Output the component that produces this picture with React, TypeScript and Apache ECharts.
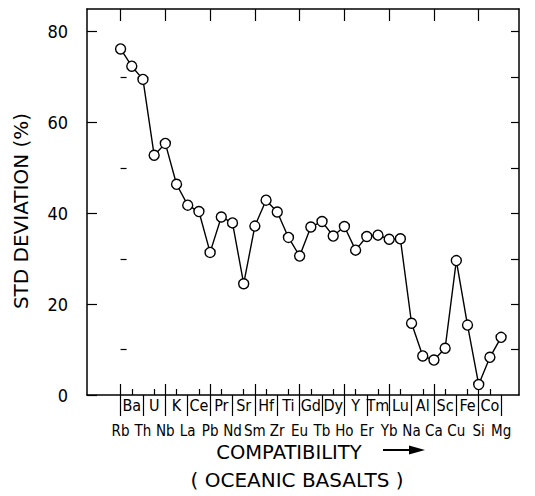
import React, { useEffect, useRef } from "react";
import * as echarts from "echarts";

const elements = ["Rb","Ba","Th","U","Nb","K","La","Ce","Pb","Pr","Nd","Sr","Sm","Hf","Zr","Ti","Eu","Gd","Tb","Dy","Ho","Y","Er","Tm","Yb","Lu","Na","Al","Ca","Sc","Cu","Fe","Si","Co","Mg"];
const stdDeviation = [76.2,72.4,69.5,52.8,55.4,46.4,41.8,40.4,31.4,39.2,37.9,24.5,37.2,42.9,40.3,34.7,30.6,37.0,38.2,35.0,37.1,31.9,34.9,35.2,34.3,34.4,15.8,8.6,7.7,10.3,29.6,15.4,2.3,8.3,12.7];
const yTickLabels = [0, 20, 40, 60, 80];
const yAxisTitle = "STD DEVIATION (%)";
const xAxisTitle = "COMPATIBILITY";
const xAxisSubtitle = "( OCEANIC BASALTS )";

const LABEL_FONT = '"DejaVu Sans Condensed", "Liberation Sans", sans-serif';
const TITLE_FONT = '"DejaVu Sans", "Liberation Sans", sans-serif';

export default function App() {
  const ref = useRef<HTMLDivElement>(null);
  useEffect(() => {
    if (!ref.current) return;
    const chart = echarts.init(ref.current, undefined, { renderer: "svg" });
    const idx = elements.map((_, i) => i);
    const upperIdx = idx.filter((i) => i % 2 === 1);
    const lowerIdx = idx.filter((i) => i % 2 === 0);
    const majorIdx = idx.filter((i) => i % 4 === 0);
    const xMin = -3;
    const xMax = 35.6;
    const baseX = {
      type: "value",
      min: xMin,
      max: xMax,
      splitLine: { show: false },
      axisLine: { show: false },
      axisTick: { show: false },
      axisLabel: { show: false },
    };
    const fmt = (v: number) => elements[Math.round(v)] ?? "";
    chart.setOption({
      animation: false,
      grid: { left: 87, top: 9, width: 432, height: 386, show: false },
      xAxis: [
        {
          ...baseX,
          position: "bottom",
          axisLine: { show: true, onZero: false, lineStyle: { color: "#000", width: 1.5 } },
          axisTick: { show: true, inside: true, length: 6, customValues: upperIdx, lineStyle: { color: "#000", width: 1.2 } },
          axisLabel: { show: true, customValues: upperIdx, formatter: fmt, margin: 3, lineHeight: 15, color: "#000", fontSize: 16, fontFamily: LABEL_FONT },
        },
        {
          ...baseX,
          position: "bottom",
          axisTick: { show: true, inside: true, length: 11, customValues: majorIdx, lineStyle: { color: "#000", width: 1.2 } },
        },
        {
          ...baseX,
          position: "bottom",
          axisTick: { show: true, inside: false, length: 21, customValues: lowerIdx, lineStyle: { color: "#000", width: 1.2 } },
          axisLabel: { show: true, customValues: lowerIdx, formatter: fmt, margin: 29, lineHeight: 14, color: "#000", fontSize: 15, fontFamily: LABEL_FONT },
        },
        {
          ...baseX,
          position: "top",
          axisLine: { show: true, onZero: false, lineStyle: { color: "#000", width: 1.5 } },
          axisTick: { show: true, inside: true, length: 12, customValues: majorIdx, lineStyle: { color: "#000", width: 1.2 } },
        },
      ],
      yAxis: [
        {
          type: "value",
          position: "left",
          min: 0,
          max: 85,
          splitLine: { show: false },
          axisLine: { show: true, onZero: false, lineStyle: { color: "#000", width: 1.5 } },
          axisTick: { show: true, inside: true, length: 10, customValues: yTickLabels, lineStyle: { color: "#000", width: 1.2 } },
          axisLabel: { show: true, customValues: yTickLabels, margin: 19, color: "#000", fontSize: 18, fontFamily: LABEL_FONT },
        },
        {
          type: "value",
          position: "left",
          min: 0,
          max: 85,
          splitLine: { show: false },
          axisLine: { show: false },
          axisTick: { show: true, inside: true, length: 6, customValues: [10, 30, 50, 70], lineStyle: { color: "#000", width: 1.2 } },
          axisLabel: { show: false },
        },
        {
          type: "value",
          position: "right",
          min: 0,
          max: 85,
          splitLine: { show: false },
          axisLine: { show: true, onZero: false, lineStyle: { color: "#000", width: 1.5 } },
          axisTick: { show: true, inside: true, length: 8, customValues: [10, 20, 30, 40, 50, 60, 70, 80], lineStyle: { color: "#000", width: 1.2 } },
          axisLabel: { show: false },
        },
      ],
      series: [
        {
          type: "line",
          xAxisIndex: 0,
          yAxisIndex: 0,
          data: stdDeviation.map((v, i) => [i, v]),
          symbol: "circle",
          symbolSize: 10,
          showSymbol: true,
          lineStyle: { color: "#000", width: 1.4 },
          itemStyle: { color: "#fff", borderColor: "#000", borderWidth: 1.4 },
          emphasis: { disabled: true },
        },
      ],
      graphic: [
        {
          type: "text",
          x: 21,
          y: 211,
          rotation: Math.PI / 2,
          style: { text: yAxisTitle, align: "center", verticalAlign: "middle", fontSize: 20, fontFamily: TITLE_FONT, fill: "#000" },
        },
        {
          type: "text",
          x: 289,
          y: 452,
          style: { text: xAxisTitle, align: "center", verticalAlign: "middle", fontSize: 19.5, lineHeight: 16, fontFamily: TITLE_FONT, fill: "#000" },
        },
        {
          type: "text",
          x: 297,
          y: 480,
          style: { text: xAxisSubtitle, align: "center", verticalAlign: "middle", fontSize: 20, lineHeight: 18, fontFamily: TITLE_FONT, fill: "#000" },
        },
        {
          type: "line",
          shape: { x1: 383, y1: 450, x2: 412, y2: 450 },
          style: { stroke: "#000", lineWidth: 2 },
        },
        {
          type: "polygon",
          shape: { points: [[409, 445.5], [425, 450], [409, 454.5]] },
          style: { fill: "#000" },
        },
      ],
    });
    return () => chart.dispose();
  }, []);
  return (
    <div
      ref={ref}
      style={{ position: "fixed", left: 0, top: 0, width: 535, height: 496, background: "#fff" }}
    />
  );
}
